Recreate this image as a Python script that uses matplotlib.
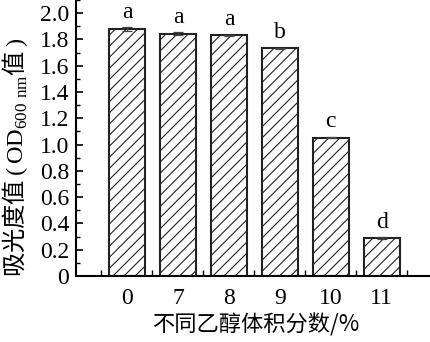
import matplotlib
matplotlib.use("Agg")
import matplotlib.pyplot as plt
from matplotlib.ticker import MultipleLocator, FixedLocator

# data
categories = ['0', '7', '8', '9', '10', '11']
od_values = [1.876, 1.843, 1.830, 1.732, 1.053, 0.287]
od_errors = [0.015, 0.012, 0.006, 0.005, 0.006, 0.006]
letters = ['a', 'a', 'a', 'b', 'c', 'd']

serif = ['Liberation Serif', 'DejaVu Serif']
cjk = ['Noto Sans CJK SC', 'Liberation Serif']

plt.rcParams['font.family'] = serif
plt.rcParams['hatch.linewidth'] = 0.8
plt.rcParams['mathtext.fontset'] = 'custom'
plt.rcParams['mathtext.rm'] = 'Liberation Serif'

fig = plt.figure(figsize=(4.31, 3.42), dpi=100)
ax = fig.add_axes([76/431, (342-276)/342, 1 - 76/431 + 0.01, 276/342])

x = list(range(len(categories)))
ax.bar(x, od_values, width=0.71, color='white', edgecolor='#222222',
       linewidth=1.5, hatch='///', zorder=2)
ax.errorbar(x, od_values, yerr=od_errors, fmt='none', ecolor='#444444',
            elinewidth=0.9, capsize=3.5, capthick=0.9, zorder=3)

for xi, v, e, lab in zip(x, od_values, od_errors, letters):
    ax.text(xi, v + e + 0.035, lab, ha='center', va='bottom', fontsize=17)

ax.set_xlim(-1.0, 6.05)
ax.set_ylim(0, 2.1)

ax.set_xticks(x)
ax.set_xticklabels(categories, fontsize=17)
ax.xaxis.set_minor_locator(FixedLocator([i - 0.5 for i in range(len(categories) + 1)]))
ax.set_yticks([0, 0.2, 0.4, 0.6, 0.8, 1.0, 1.2, 1.4, 1.6, 1.8, 2.0])
ax.set_yticklabels(['0', '0.2', '0.4', '0.6', '0.8', '1.0', '1.2', '1.4', '1.6', '1.8', '2.0'],
                   fontsize=17)
ax.yaxis.set_minor_locator(MultipleLocator(0.1))

ax.tick_params(axis='y', which='major', direction='in', length=5, width=1.2, pad=5)
ax.tick_params(axis='y', which='minor', direction='in', length=3, width=1.0)
ax.tick_params(axis='x', which='major', length=0, pad=9)
ax.tick_params(axis='x', which='minor', direction='in', length=4, width=1.0)

for side in ['top', 'right']:
    ax.spines[side].set_visible(False)
for side in ['left', 'bottom']:
    ax.spines[side].set_linewidth(1.5)

ax.set_xlabel('不同乙醇体积分数/%', family=cjk, fontsize=16, labelpad=3)
ax.set_ylabel('吸光度值$\\mathrm{\\,(\\,OD}_{600\\ \\mathrm{nm}}$值$\\mathrm{\\,)}$', family=cjk,
              fontsize=17.5)
ax.yaxis.set_label_coords(-0.128, 0.43)

fig.savefig('out.png', dpi=100)
